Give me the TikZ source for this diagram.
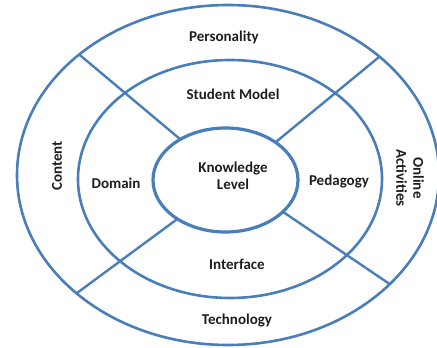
\documentclass[tikz,border=0pt]{standalone}
\usepackage{fontspec}
\setmainfont{Carlito}
\usetikzlibrary{shapes.geometric}
\definecolor{ringblue}{RGB}{74,126,187}
\definecolor{labelgray}{RGB}{30,30,30}
\tikzset{
  ring/.style={ellipse, draw=ringblue, line width=2.6pt, inner sep=0pt, outer sep=0pt},
  spoke/.style={draw=ringblue, line width=2.4pt},
  lbl/.style={font=\fontsize{15}{17}\selectfont\bfseries, text=labelgray, align=center, inner sep=1pt}
}
\begin{document}
\begin{tikzpicture}[x=1pt,y=-1pt]
\useasboundingbox (0,0) rectangle (437,348);
\node[ring, minimum width=422pt, minimum height=340pt] (outer) at (228,175) {};
\node[ring, minimum width=304pt, minimum height=238pt] (middle) at (230,179) {};
\node[ring, line width=3.2pt, minimum width=145pt, minimum height=104pt] (inner) at (225.5,180) {};
\draw[spoke] (outer.141.2) -- (inner.138.5);
\draw[spoke] (outer.38.6) -- (inner.37.3);
\draw[spoke] (outer.218.7) -- (inner.219.5);
\draw[spoke] (outer.326.3) -- (inner.331.7);
\node[lbl] (pers) at (224,37) {Personality};
\node[lbl] (stud) at (233,94) {Student Model};
\node[lbl] (know) at (233,176) {Knowledge\\Level};
\node[lbl] (dom) at (116,183) {Domain};
\node[lbl] (ped) at (339,182) {Pedagogy};
\node[lbl] (intf) at (237,264) {Interface};
\node[lbl] (tech) at (237,321) {Technology};
\node[lbl, rotate=90] (cont) at (57,166) {Content};
\node[lbl, rotate=-90] (onl) at (410,178) {Online\\Activities};
\end{tikzpicture}
\end{document}
